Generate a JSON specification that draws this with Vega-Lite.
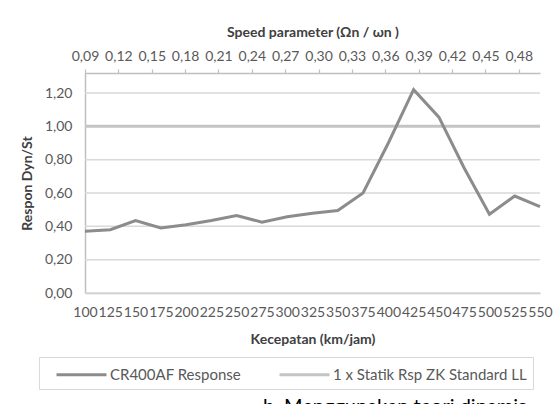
{
  "$schema": "https://vega.github.io/schema/vega-lite/v6.json",
  "width": 455,
  "height": 220,
  "autosize": {"type": "none"},
  "padding": {"left": 85, "top": 73, "right": 18, "bottom": 111},
  "background": "white",
  "title": {
    "text": "b. Menggunakan teori dinamis",
    "orient": "bottom",
    "anchor": "start",
    "frame": "group",
    "dx": 178,
    "offset": 7,
    "fontSize": 20,
    "fontWeight": "normal",
    "font": "Lato",
    "color": "#000000"
  },
  "config": {
    "font": "Lato",
    "view": {"stroke": null},
    "axis": {
      "labelFont": "Lato",
      "labelFontSize": 14,
      "labelColor": "#595959",
      "titleFont": "Lato",
      "titleFontSize": 14,
      "titleFontWeight": "bold",
      "titleColor": "#404040",
      "domainColor": "#bfbfbf",
      "domainWidth": 1.5,
      "tickColor": "#bfbfbf",
      "tickWidth": 1.2,
      "grid": false
    },
    "legend": {
      "labelFont": "Lato",
      "labelFontSize": 15,
      "labelColor": "#595959"
    }
  },
  "datasets": {
    "resp": [
      {"speed": 100, "value": 0.37, "series": "CR400AF Response"},
      {"speed": 125, "value": 0.38, "series": "CR400AF Response"},
      {"speed": 150, "value": 0.435, "series": "CR400AF Response"},
      {"speed": 175, "value": 0.39, "series": "CR400AF Response"},
      {"speed": 200, "value": 0.41, "series": "CR400AF Response"},
      {"speed": 225, "value": 0.435, "series": "CR400AF Response"},
      {"speed": 250, "value": 0.465, "series": "CR400AF Response"},
      {"speed": 275, "value": 0.425, "series": "CR400AF Response"},
      {"speed": 300, "value": 0.458, "series": "CR400AF Response"},
      {"speed": 325, "value": 0.478, "series": "CR400AF Response"},
      {"speed": 350, "value": 0.495, "series": "CR400AF Response"},
      {"speed": 375, "value": 0.6, "series": "CR400AF Response"},
      {"speed": 400, "value": 0.9, "series": "CR400AF Response"},
      {"speed": 425, "value": 1.22, "series": "CR400AF Response"},
      {"speed": 450, "value": 1.055, "series": "CR400AF Response"},
      {"speed": 475, "value": 0.75, "series": "CR400AF Response"},
      {"speed": 500, "value": 0.472, "series": "CR400AF Response"},
      {"speed": 525, "value": 0.582, "series": "CR400AF Response"},
      {"speed": 550, "value": 0.518, "series": "CR400AF Response"}
    ],
    "static": [
      {"speed": 100, "value": 1.0, "series": "1 x Statik Rsp ZK Standard LL"},
      {"speed": 550, "value": 1.0, "series": "1 x Statik Rsp ZK Standard LL"}
    ],
    "xgrid": [
      {"speed": 100}, {"speed": 125}, {"speed": 150}, {"speed": 175}, {"speed": 200}, {"speed": 225},
      {"speed": 250}, {"speed": 275}, {"speed": 300}, {"speed": 325}, {"speed": 350},
      {"speed": 375}, {"speed": 400}, {"speed": 425}, {"speed": 450}, {"speed": 475},
      {"speed": 500}, {"speed": 525}, {"speed": 550}
    ],
    "ygrid": [
      {"value": 0}, {"value": 0.2}, {"value": 0.4}, {"value": 0.6}, {"value": 0.8}, {"value": 1.0}, {"value": 1.2}
    ]
  },
  "encoding": {
    "y": {
      "field": "value",
      "type": "quantitative",
      "scale": {"domain": [0, 1.32], "nice": false},
      "axis": {
        "title": "Respon Dyn/St",
        "values": [0, 0.2, 0.4, 0.6, 0.8, 1.0, 1.2],
        "labelExpr": "replace(format(datum.value, '.2f'), '.', ',')",
        "labelOverlap": false,
        "grid": false,
        "ticks": false,
        "labelPadding": 13,
        "titlePadding": 10
      }
    }
  },
  "layer": [
    {
      "data": {"name": "xgrid"},
      "mark": {"type": "rule", "color": "#d9d9d9", "strokeWidth": 1.5},
      "encoding": {
        "x": {"field": "speed", "type": "quantitative", "axis": null},
        "y": {
          "datum": 0,
          "type": "quantitative",
          "scale": {"domain": [0, 1.32], "nice": false},
          "axis": {
            "title": "Respon Dyn/St",
            "values": [0, 0.2, 0.4, 0.6, 0.8, 1.0, 1.2],
            "labelExpr": "replace(format(datum.value, '.2f'), '.', ',')",
            "labelOverlap": false,
            "grid": false,
            "ticks": false,
            "labelPadding": 13,
            "titlePadding": 10
          }
        },
        "y2": {"datum": 1.32}
      }
    },
    {
      "data": {"name": "ygrid"},
      "mark": {"type": "rule", "color": "#d9d9d9", "strokeWidth": 1.5},
      "encoding": {
        "x": {"datum": 100, "type": "quantitative", "axis": null},
        "x2": {"datum": 550}
      }
    },
    {
      "data": {"name": "static"},
      "mark": {"type": "line", "strokeWidth": 3},
      "encoding": {
        "x": {
          "field": "speed",
          "type": "quantitative",
          "scale": {"domain": [100, 550], "nice": false, "zero": false},
          "axis": {
            "orient": "bottom",
            "title": "Kecepatan (km/jam)",
            "values": [100, 125, 150, 175, 200, 225, 250, 275, 300, 325, 350, 375, 400, 425, 450, 475, 500, 525, 550],
            "format": "d",
            "labelOverlap": false,
            "labelFlush": false,
            "ticks": false,
            "grid": false,
            "labelPadding": 12,
            "titlePadding": 13
          }
        },
        "color": {
          "field": "series",
          "type": "nominal",
          "scale": {
            "domain": ["CR400AF Response", "1 x Statik Rsp ZK Standard LL"],
            "range": ["#8c8c8c", "#c4c4c4"]
          },
          "legend": {
            "title": null,
            "orient": "none",
            "direction": "horizontal",
            "legendX": -46,
            "legendY": 284,
            "symbolType": "M0,0H5",
            "symbolSize": 400,
            "symbolStrokeWidth": 3,
            "labelOffset": 42,
            "labelLimit": 400,
            "columnPadding": 26,
            "padding": 6,
            "strokeColor": "#d9d9d9"
          }
        }
      }
    },
    {
      "data": {"name": "resp"},
      "mark": {"type": "line", "strokeWidth": 3},
      "encoding": {
        "x": {
          "field": "speed",
          "type": "quantitative",
          "axis": {
            "orient": "top",
            "title": "Speed parameter (Ωn / ωn )",
            "values": [100, 133, 166, 199, 232, 265, 298, 331, 364, 397, 430, 463, 496, 529],
            "labelExpr": "replace(format(0.09 + (datum.value - 100) * 0.03 / 33, '.2f'), '.', ',')",
            "labelOverlap": false,
            "labelFlush": false,
            "grid": false,
            "ticks": true,
            "tickSize": 4,
            "labelPadding": 6,
            "titlePadding": 10
          }
        },
        "color": {"field": "series", "type": "nominal"}
      }
    }
  ],
  "resolve": {"axis": {"x": "independent"}}
}
